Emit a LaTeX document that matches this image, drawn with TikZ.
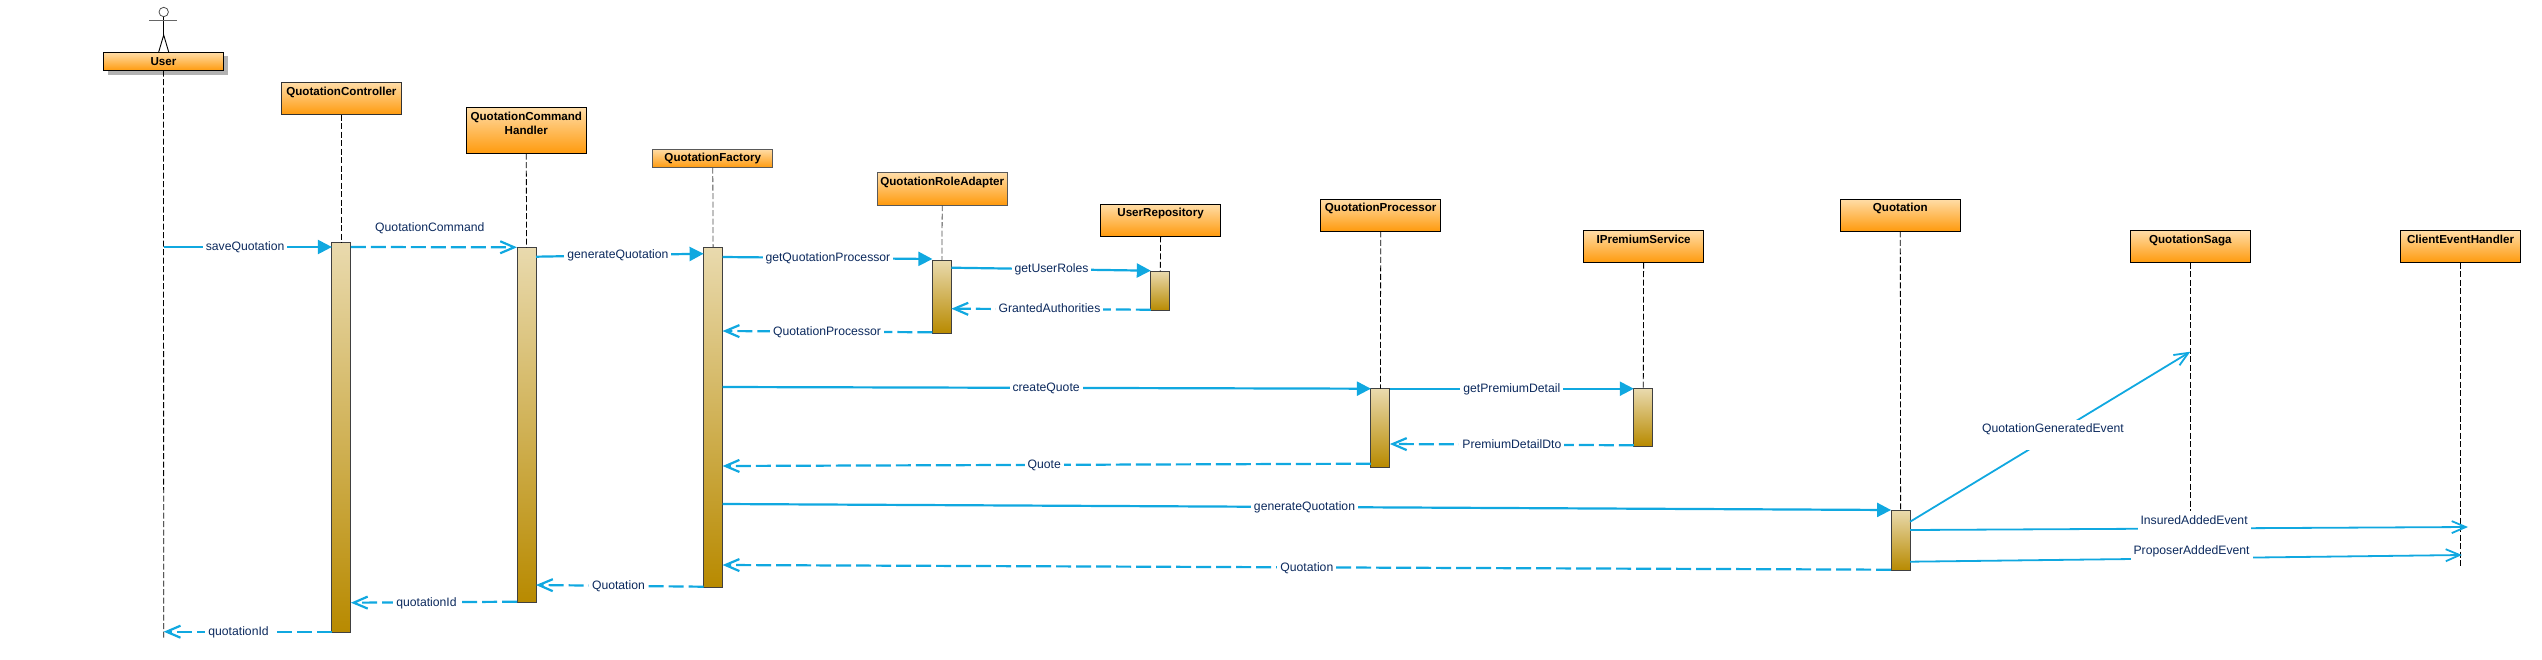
\documentclass[tikz,border=0pt]{standalone}
\usepackage{fontspec}
\setmainfont{Liberation Sans}
\usetikzlibrary{arrows.meta,shadows}
\definecolor{msgblue}{HTML}{10A8E0}
\definecolor{lblnavy}{HTML}{0C2A5E}
\definecolor{boxlight}{HTML}{FFDDA8}
\definecolor{boxorange}{HTML}{FF9A0C}
\definecolor{barlight}{HTML}{E9DAAE}
\definecolor{bardark}{HTML}{B88A00}
\tikzset{
	objbox/.style={draw=black, line width=1pt, anchor=north west, inner xsep=0pt, inner ysep=0pt,
		outer sep=0pt, minimum width=120pt, top color=boxlight, bottom color=boxorange,
		font=\bfseries\fontsize{11.6}{14}\selectfont, text=black, text height=12.7pt, text depth=#1},
	objbox/.default=19.7pt,
	actbar/.style={draw=black!75, line width=1pt, anchor=north west, inner sep=0pt, outer sep=0pt,
		minimum width=19pt, top color=barlight, bottom color=bardark},
	lifeline/.style={draw=black, line width=0.8pt, dash pattern=on 6pt off 2.5pt},
	msg/.style={draw=msgblue, line width=2.2pt, -{Triangle[length=14pt,width=14pt]}},
	reply/.style={draw=msgblue, line width=2.2pt, dash pattern=on 15pt off 5pt, -{Straight Barb[length=14pt,width=12pt]}},
	event/.style={draw=msgblue, line width=1.8pt, -{Straight Barb[length=14pt,width=12pt]}},
	lbl/.style={fill=white, text=lblnavy, font=\fontsize{12.2}{14}\selectfont, inner xsep=3pt, inner ysep=0pt,
		text height=10pt, text depth=2.5pt},
	evlbl/.style={lbl, anchor=base, yshift=3.5pt, text depth=6pt}
}
\begin{document}
\begin{tikzpicture}[x=1pt, y=-1pt]
	\useasboundingbox (0,0) rectangle (2542,659);

	\node[objbox=5.7pt, drop shadow={shadow xshift=4pt, shadow yshift=-4pt, fill=black!30, opacity=1}] (user) at (103.5,52.3) {User};
	\node[objbox, draw=black!80] (controller) at (281.4,82.3) {QuotationController};
	\node[objbox=33.7pt] (handler) at (466.3,107.3) {\begin{tabular}[t]{@{}c@{}}QuotationCommand\\Handler\end{tabular}};
	\node[objbox=6pt, draw=black!65] (factory) at (652.8,149) {QuotationFactory};
	\node[objbox, draw=black!65, minimum width=130pt] (roleadapter) at (877.2,172.7) {QuotationRoleAdapter};
	\node[objbox] (repository) at (1100.6,204) {UserRepository};
	\node[objbox] (processor) at (1320.7,199) {QuotationProcessor};
	\node[objbox] (premium) at (1583.6,230.3) {IPremiumService};
	\node[objbox] (quotation) at (1840.3,199) {Quotation};
	\node[objbox] (saga) at (2130.3,230.3) {QuotationSaga};
	\node[objbox] (client) at (2400.5,230.3) {ClientEventHandler};

	\node[circle, draw=black!70, line width=0.8pt, inner sep=0pt, minimum size=9.4pt] (head) at (163.7,12) {};
	\coordinate (hip) at (163.7,35);
	\coordinate (armL) at (149.3,20.7);
	\coordinate (armR) at (177.3,20.7);
	\coordinate (footL) at (158.7,52);
	\coordinate (footR) at (168.7,52);
	\draw[black, line width=0.9pt] (head) -- (hip);
	\draw[black, line width=0.9pt] (footL) -- (hip) -- (footR);
	\draw[black!60, line width=1.5pt] (armL) -- (armR);

	\coordinate (userEnd) at (163.7,638);
	\coordinate (userCall) at (163.7,247);
	\coordinate (userBack) at (163.7,631.7);
	\coordinate (sagaEnd) at (2190.3,510.7);
	\coordinate (sagaHit) at (2190.3,351.7);
	\coordinate (clientEnd) at (2460.5,568);
	\coordinate (clientIns) at (2468,527);
	\coordinate (clientProp) at (2462,555);

	\node[actbar, minimum height=390.4pt] (actController) at (331.9,242.3) {};
	\node[actbar, minimum height=355.4pt] (actHandler) at (517,247.3) {};
	\node[actbar, minimum height=340pt] (actFactory) at (703.6,247.3) {};
	\node[actbar, minimum height=73.3pt] (actRole) at (932.4,260) {};
	\node[actbar, minimum height=39.4pt] (actRepo) at (1150.8,271.3) {};
	\node[actbar, minimum height=78.6pt] (actProc) at (1370.9,388.7) {};
	\node[actbar, minimum height=57.3pt] (actPremium) at (1633.8,388.7) {};
	\node[actbar, minimum height=60pt] (actQuotation) at (1891.1,510.3) {};

	\draw[lifeline] (user.south) -- (userEnd);
	\draw[lifeline] (controller.south) -- (actController.north);
	\draw[lifeline] (handler.south) -- (actHandler.north);
	\draw[lifeline, draw=black!70] (factory.south) -- (actFactory.north);
	\draw[lifeline, draw=black!70] (roleadapter.south) -- (actRole.north);
	\draw[lifeline] (repository.south) -- (actRepo.north);
	\draw[lifeline] (processor.south) -- (actProc.north);
	\draw[lifeline] (premium.south) -- (actPremium.north);
	\draw[lifeline] (quotation.south) -- (actQuotation.north);
	\draw[lifeline] (saga.south) -- (sagaEnd);
	\draw[lifeline] (client.south) -- (clientEnd);

	\draw[msg] (userCall) -- ([yshift=-4.7pt]actController.north west) node[lbl, pos=.484] (m1) {saveQuotation};
	\draw[reply] ([yshift=-4.7pt]actController.north east) -- (actHandler.north west) node[lbl, fill=none, anchor=base, yshift=16pt, pos=.475] (m2) {QuotationCommand};
	\draw[msg] ([yshift=-9.4pt]actHandler.north east) -- ([yshift=-6.4pt]actFactory.north west) node[lbl, pos=.489] (m3) {generateQuotation};
	\draw[msg] ([yshift=-9.7pt]actFactory.north east) -- ([yshift=1pt]actRole.north west) node[lbl, pos=.502] (m4) {getQuotationProcessor};
	\draw[msg] ([yshift=-7.7pt]actRole.north east) -- ([yshift=0.6pt]actRepo.north west) node[lbl, pos=.502] (m5) {getUserRoles};
	\draw[reply] ([yshift=1pt]actRepo.south west) -- ([yshift=-48.7pt]actRole.north east) node[lbl, pos=.508] (m6) {GrantedAuthorities};
	\draw[reply] ([yshift=1pt]actRole.south west) -- ([yshift=-83.7pt]actFactory.north east) node[lbl, pos=.502] (m7) {QuotationProcessor};
	\draw[msg] ([yshift=-139.7pt]actFactory.north east) -- (actProc.north west) node[lbl, pos=.499] (m8) {createQuote};
	\draw[msg] (actProc.north east) -- (actPremium.north west) node[lbl, pos=.5] (m9) {getPremiumDetail};
	\draw[reply] ([yshift=0.7pt]actPremium.south west) -- ([yshift=-55.3pt]actProc.north east) node[lbl, pos=.5] (m10) {PremiumDetailDto};
	\draw[reply] ([yshift=3.6pt]actProc.south west) -- ([yshift=-218.7pt]actFactory.north east) node[lbl, pos=.504] (m11) {Quote};
	\draw[msg] ([yshift=-256.7pt]actFactory.north east) -- ([yshift=0.3pt]actQuotation.north west) node[lbl, pos=.498] (m12) {generateQuotation};
	\draw[event] ([yshift=-11.4pt]actQuotation.north east) -- (sagaHit) node[lbl, pos=.5095, text height=11.7pt, text depth=17.7pt] (m13) {QuotationGeneratedEvent};
	\draw[event] ([yshift=-19.7pt]actQuotation.north east) -- (clientIns) node[evlbl, pos=.509] (m14) {InsuredAddedEvent};
	\draw[event] ([yshift=-51.4pt]actQuotation.north east) -- (clientProp) node[evlbl, pos=.51] (m15) {ProposerAddedEvent};
	\draw[reply] ([yshift=0.6pt]actQuotation.south west) -- ([yshift=-317.7pt]actFactory.north east) node[lbl, pos=.5] (m16) {Quotation};
	\draw[reply] ([yshift=0.6pt]actFactory.south west) -- ([yshift=17.7pt]actHandler.south east) node[lbl, pos=.508] (m17) {Quotation};
	\draw[reply] ([yshift=1pt]actHandler.south west) -- ([yshift=-360.4pt]actController.north east) node[lbl, pos=.545] (m18) {quotationId};
	\draw[reply] ([yshift=1pt]actController.south west) -- (userBack) node[lbl, pos=.555] (m19) {quotationId};
\end{tikzpicture}
\end{document}
